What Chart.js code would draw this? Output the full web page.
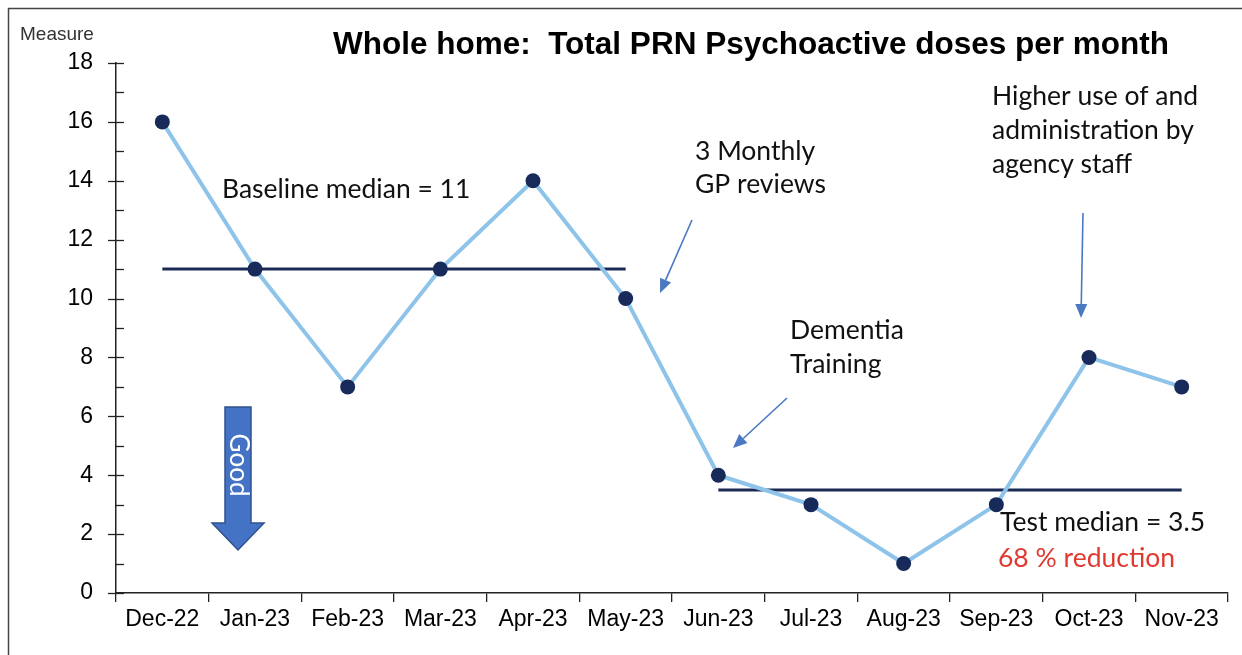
<!DOCTYPE html>
<html>
<head>
<meta charset="utf-8">
<script src="https://cdn.jsdelivr.net/npm/chart.js@4.4.1/dist/chart.umd.min.js"></script>
<style>
  html, body { margin: 0; padding: 0; background: #fff; }
  #wrap { width: 1242px; height: 655px; position: relative; }
</style>
</head>
<body>
<div id="wrap"><canvas id="chart" width="1242" height="655"></canvas></div>
<script>
'use strict';

// months along the x axis
const months = ['Dec-22', 'Jan-23', 'Feb-23', 'Mar-23', 'Apr-23', 'May-23',
                'Jun-23', 'Jul-23', 'Aug-23', 'Sep-23', 'Oct-23', 'Nov-23'];
// PRN doses per month
const doses = [16, 11, 7, 11, 14, 10, 4, 3, 1, 3, 8, 7];
// medians (baseline Dec-May, test Jun-Nov)
const baselineMedian = [11, 11, 11, 11, 11, 11, null, null, null, null, null, null];
const testMedian = [null, null, null, null, null, null, 3.5, 3.5, 3.5, 3.5, 3.5, 3.5];
// y axis ticks
const yMajor = [0, 2, 4, 6, 8, 10, 12, 14, 16, 18];
const yMinor = [1, 3, 5, 7, 9, 11, 13, 15, 17];

const canvasElem = document.getElementById('chart');
const annoFont = 'Lato, "Open Sans", sans-serif';
const arrowBlue = '#4A78C2';

function drawArrow(ctx, x1, y1, x2, y2) {
  const ang = Math.atan2(y2 - y1, x2 - x1);
  const head = 14, w = 6;
  const bx = x2 - head * Math.cos(ang), by = y2 - head * Math.sin(ang);
  ctx.save();
  ctx.strokeStyle = arrowBlue;
  ctx.fillStyle = arrowBlue;
  ctx.lineWidth = 1.6;
  ctx.beginPath();
  ctx.moveTo(x1, y1);
  ctx.lineTo(bx, by);
  ctx.stroke();
  ctx.beginPath();
  ctx.moveTo(x2, y2);
  ctx.lineTo(bx + w * Math.sin(ang), by - w * Math.cos(ang));
  ctx.lineTo(bx - w * Math.sin(ang), by + w * Math.cos(ang));
  ctx.closePath();
  ctx.fill();
  ctx.restore();
}

const extras = {
  id: 'extras',
  beforeDraw(chart) {
    const ctx = chart.ctx;
    ctx.save();
    ctx.fillStyle = '#fff';
    ctx.fillRect(0, 0, chart.width, chart.height);
    // frame
    ctx.strokeStyle = '#444';
    ctx.lineWidth = 1.5;
    ctx.beginPath();
    ctx.moveTo(8.5, chart.height);
    ctx.lineTo(8.5, 8.5);
    ctx.lineTo(chart.width, 8.5);
    ctx.stroke();
    ctx.restore();
  },
  afterDatasetsDraw(chart) {
    const ctx = chart.ctx;
    const y = chart.scales.y;
    const x0 = chart.chartArea.left;
    ctx.save();
    // y ticks
    ctx.strokeStyle = '#222';
    ctx.lineWidth = 1.3;
    yMajor.forEach(v => {
      const py = Math.round(y.getPixelForValue(v)) + 0.5;
      ctx.beginPath(); ctx.moveTo(x0 - 8, py); ctx.lineTo(x0 + 8, py); ctx.stroke();
    });
    yMinor.forEach(v => {
      const py = Math.round(y.getPixelForValue(v)) + 0.5;
      ctx.beginPath(); ctx.moveTo(x0, py); ctx.lineTo(x0 + 8, py); ctx.stroke();
    });

    // axis title
    ctx.fillStyle = '#333';
    ctx.font = '19px "Liberation Sans", Arial, sans-serif';
    ctx.textBaseline = 'middle';
    ctx.textAlign = 'left';
    ctx.fillText('Measure', 20, 35);

    // chart title
    ctx.fillStyle = '#000';
    ctx.font = 'bold 31.5px "Liberation Sans", Arial, sans-serif';
    ctx.textAlign = 'center';
    ctx.fillText('Whole home:  Total PRN Psychoactive doses per month', 751, 45);

    // annotations
    ctx.textAlign = 'left';
    ctx.font = '26.5px ' + annoFont;
    ctx.fillStyle = '#111';
    ctx.fillText('Baseline median = 11', 222, 189);
    ctx.fillText('3 Monthly', 695, 151);
    ctx.fillText('GP reviews', 695, 184);
    ctx.fillText('Dementia', 790, 330);
    ctx.fillText('Training', 790, 364);
    ctx.fillText('Higher use of and', 992, 96);
    ctx.fillText('administration by', 992, 130);
    ctx.fillText('agency staff', 992, 164);
    ctx.fillText('Test median = 3.5', 1000, 522);
    ctx.fillStyle = '#E03A30';
    ctx.fillText('68 % reduction', 998, 558);

    drawArrow(ctx, 692, 220, 660, 293);
    drawArrow(ctx, 787, 398, 733, 448);
    drawArrow(ctx, 1083, 213, 1081, 318);

    // "Good" block arrow
    ctx.beginPath();
    ctx.moveTo(225, 407);
    ctx.lineTo(251, 407);
    ctx.lineTo(251, 523);
    ctx.lineTo(264, 523);
    ctx.lineTo(238, 550);
    ctx.lineTo(212, 523);
    ctx.lineTo(225, 523);
    ctx.closePath();
    ctx.fillStyle = '#4472C4';
    ctx.fill();
    ctx.strokeStyle = '#2F528F';
    ctx.lineWidth = 1.5;
    ctx.stroke();
    ctx.translate(238, 465);
    ctx.rotate(Math.PI / 2);
    ctx.fillStyle = '#fff';
    ctx.font = '26px ' + annoFont;
    ctx.textAlign = 'center';
    ctx.textBaseline = 'middle';
    ctx.fillText('Good', 0, 0);
    ctx.restore();
  }
};

const data = {
  labels: months,
  datasets: [
    {
      label: 'Baseline median',
      data: baselineMedian,
      borderColor: '#1B2A55',
      borderWidth: 3,
      pointRadius: 0,
      spanGaps: false,
      order: 2
    },
    {
      label: 'Test median',
      data: testMedian,
      borderColor: '#1B2A55',
      borderWidth: 3,
      pointRadius: 0,
      spanGaps: false,
      order: 2
    },
    {
      label: 'Doses',
      data: doses,
      borderColor: '#8EC3EA',
      borderWidth: 4,
      pointRadius: 7.5,
      pointBackgroundColor: '#172A5A',
      pointBorderColor: '#172A5A',
      pointBorderWidth: 0,
      tension: 0,
      order: 1
    }
  ]
};

const config = {
  type: 'line',
  data: data,
  options: {
    responsive: false,
    animation: false,
    devicePixelRatio: 1,
    layout: { padding: { left: 0, top: 63, right: 14, bottom: 0 } },
    plugins: { legend: { display: false }, tooltip: { enabled: false } },
    scales: {
      x: {
        offset: true,
        grid: { offset: true, drawOnChartArea: false, tickLength: 9, color: '#222', lineWidth: 1.3 },
        border: { display: true, color: '#222', width: 1.5 },
        ticks: { color: '#000', font: { family: '"Liberation Sans", Arial, sans-serif', size: 23 }, padding: 4, maxRotation: 0, autoSkip: false },
        afterFit(scale) { scale.height = 62; }
      },
      y: {
        min: 0,
        max: 18,
        grid: { drawOnChartArea: false, drawTicks: false },
        border: { display: true, color: '#222', width: 1.5 },
        ticks: { stepSize: 2, color: '#000', font: { family: '"Liberation Sans", Arial, sans-serif', size: 23 }, padding: 23 },
        afterFit(scale) { scale.width = 116; }
      }
    }
  },
  plugins: [extras]
};

const myChart = new Chart(canvasElem, config);
</script>
</body>
</html>
